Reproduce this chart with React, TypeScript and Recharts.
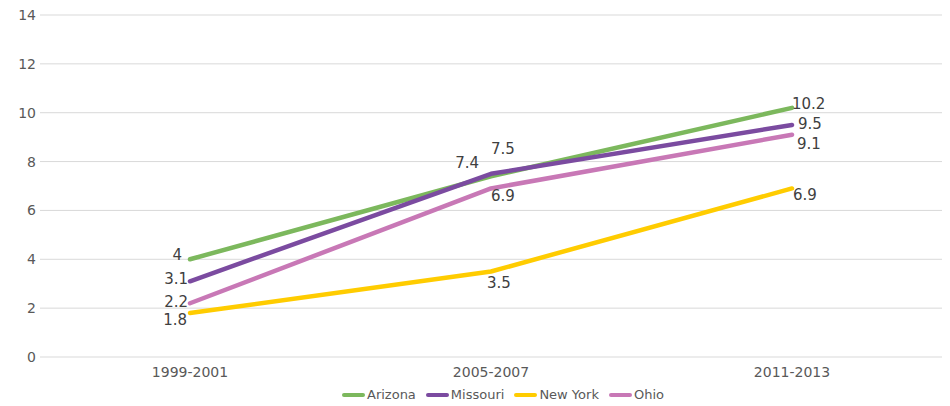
import { CartesianGrid, Line, LineChart, XAxis, YAxis, Legend } from 'recharts'

const periods = ['1999-2001', '2005-2007', '2011-2013']
const arizona = [4, 7.4, 10.2]
const missouri = [3.1, 7.5, 9.5]
const newYork = [1.8, 3.5, 6.9]
const ohio = [2.2, 6.9, 9.1]
const yTicks = [0, 2, 4, 6, 8, 10, 12, 14]

const data = periods.map((p, i) => ({
  name: p,
  Arizona: arizona[i],
  Missouri: missouri[i],
  'New York': newYork[i],
  Ohio: ohio[i],
}))

const series = [
  { key: 'Arizona', color: '#7cb85d' },
  { key: 'Missouri', color: '#7b4ba0' },
  { key: 'New York', color: '#ffcc00' },
  { key: 'Ohio', color: '#c878b6' },
]

// label placement per series / point: [anchor, dx, dy]
const labelPos: Record<string, [string, number, number][]> = {
  Arizona: [['end', -8, -4], ['end', -12, -13], ['start', 0, -4]],
  Missouri: [['end', -2, -2], ['start', 0, -25], ['start', 6, -1]],
  'New York': [['end', -3, 7], ['start', -4, 11], ['start', 1, 7]],
  Ohio: [['end', -2, -1], ['start', 0, 8], ['start', 5, 9]],
}

const font = '"DejaVu Sans", sans-serif'

function makeLabel(key: string) {
  return (props: any) => {
    const { x, y, value, index } = props
    const [anchor, dx, dy] = labelPos[key][index]
    return (
      <text
        key={`${key}-${index}`}
        x={x + dx}
        y={y + dy}
        textAnchor={anchor as any}
        dominantBaseline='central'
        fontSize={15}
        fontFamily={font}
        fill='#404040'
      >
        {value}
      </text>
    )
  }
}

function LegendBox() {
  return (
    <div style={{ display: 'flex', height: 23, alignItems: 'center', paddingLeft: 342, fontFamily: font, fontSize: 13, color: '#595959' }}>
      {series.map((s) => (
        <div key={s.key} style={{ display: 'flex', alignItems: 'center', marginRight: 10 }}>
          <span style={{ display: 'inline-block', width: 23, height: 4, borderRadius: 2, background: s.color, marginRight: 2 }} />
          <span>{s.key}</span>
        </div>
      ))}
    </div>
  )
}

export default function App() {
  return (
    <div style={{ position: 'absolute', left: 0, top: 0, background: '#fff' }}>
      <LineChart width={950} height={406} data={data} margin={{ top: 15, right: 8, left: 0, bottom: 0 }}>
        <CartesianGrid vertical={false} stroke='#d9d9d9' />
        <XAxis
          dataKey='name'
          axisLine={false}
          tickLine={false}
          tickSize={0}
          tickMargin={10}
          height={26}
          padding={{ left: 150, right: 150 }}
          tick={{ fill: '#595959', fontSize: 14, fontFamily: font }}
        />
        <YAxis
          domain={[0, 14]}
          ticks={yTicks}
          axisLine={false}
          tickLine={false}
          tickSize={0}
          tickMargin={4}
          width={40}
          tick={{ fill: '#595959', fontSize: 14, fontFamily: font }}
        />
        <Legend verticalAlign='bottom' content={<LegendBox />} />
        {series.map((s) => (
          <Line
            key={s.key}
            dataKey={s.key}
            stroke={s.color}
            strokeWidth={4.5}
            strokeLinecap='round'
            strokeLinejoin='round'
            dot={false}
            activeDot={false}
            isAnimationActive={false}
            label={makeLabel(s.key)}
          />
        ))}
      </LineChart>
    </div>
  )
}
